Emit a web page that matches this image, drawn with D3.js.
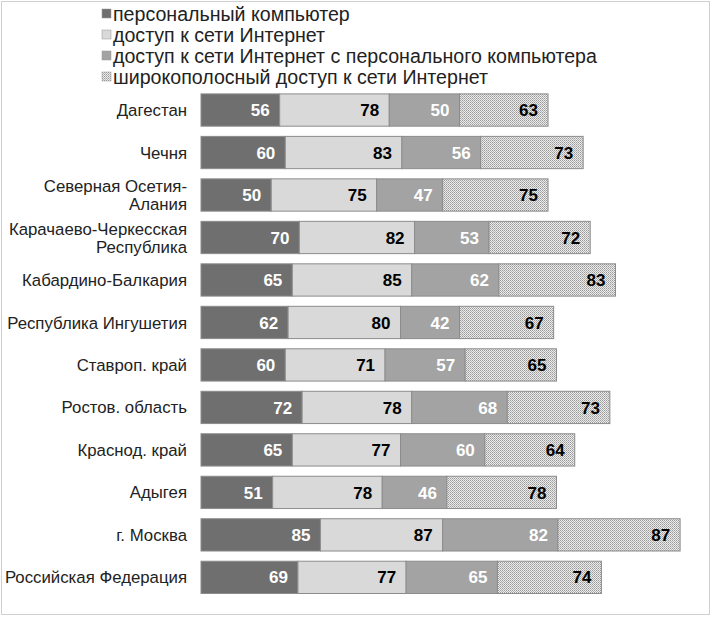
<!DOCTYPE html>
<html lang="ru">
  <head>
    <meta charset="utf-8">
    <title>Доступ к ИКТ</title>
    <script src="https://cdn.jsdelivr.net/npm/d3@7"></script>
    <style>
      body { margin: 0; background: #fff; }
      text { font-family: "Liberation Sans", Arial, sans-serif; }
    </style>
  </head>
  <body>
    <script>
      // regions top to bottom
      var regions = ["Дагестан", "Чечня", "Северная Осетия-\nАлания", "Карачаево-Черкесская\nРеспублика",
        "Кабардино-Балкария", "Республика Ингушетия", "Ставроп. край", "Ростов. область",
        "Краснод. край", "Адыгея", "г. Москва", "Российская Федерация"];
      var seriesNames = ["персональный компьютер", "доступ к сети Интернет",
        "доступ к сети Интернет с персонального компьютера", "широкополосный доступ к сети Интернет"];
      var pc       = [56, 60, 50, 70, 65, 62, 60, 72, 65, 51, 85, 69];
      var inet     = [78, 83, 75, 82, 85, 80, 71, 78, 77, 78, 87, 77];
      var inetPc   = [50, 56, 47, 53, 62, 42, 57, 68, 60, 46, 82, 65];
      var broad    = [63, 73, 75, 72, 83, 67, 65, 73, 64, 78, 87, 74];

      var fills = ["#6f6f6f", "#d9d9d9", "#a3a3a3", "url(#hatch)"];
      var labelColors = ["#fff", "#000", "#fff", "#000"];
      var series = [pc, inet, inetPc, broad];

      var W = 712, H = 617;
      var svg = d3.select("body").append("svg").attr("width", W).attr("height", H);

      var defs = svg.append("defs");
      var pat = defs.append("pattern").attr("id", "hatch").attr("patternUnits", "userSpaceOnUse")
        .attr("width", 2).attr("height", 2);
      pat.append("rect").attr("width", 2).attr("height", 2).attr("fill", "#ececec");
      pat.append("rect").attr("x", 0).attr("y", 0).attr("width", 1).attr("height", 1).attr("fill", "#999");
      pat.append("rect").attr("x", 1).attr("y", 1).attr("width", 1).attr("height", 1).attr("fill", "#b4b4b4");

      // outer frame
      svg.append("rect").attr("x", 1.5).attr("y", 1.5).attr("width", 708).attr("height", 613)
        .attr("fill", "none").attr("stroke", "#d0d0d0");

      var x = d3.scaleLinear().domain([0, 360]).range([201, 201 + 360 * 1.405]);
      var y = d3.scaleBand().domain(regions).range([88.8, 598.6]).paddingInner(0.24).paddingOuter(0.12);

      // stacked data
      var rows = regions.map(function(r, i) {
        var acc = 0;
        return series.map(function(s, k) {
          var seg = { region: r, k: k, v: s[i], x0: acc, x1: acc + s[i] };
          acc += s[i];
          return seg;
        });
      });

      var g = svg.append("g");
      rows.forEach(function(row) {
        var rg = g.append("g");
        rg.selectAll("rect").data(row).enter().append("rect")
          .attr("x", function(d) { return x(d.x0); })
          .attr("y", function(d) { return y(d.region); })
          .attr("width", function(d) { return x(d.x1) - x(d.x0); })
          .attr("height", y.bandwidth())
          .attr("fill", function(d) { return fills[d.k]; })
          .attr("stroke", "#8c8c8c").attr("stroke-width", 1);
        rg.selectAll("text").data(row).enter().append("text")
          .attr("x", function(d) { return x(d.x1) - 10; })
          .attr("y", function(d) { return y(d.region) + y.bandwidth() / 2; })
          .attr("dy", "0.36em").attr("text-anchor", "end")
          .attr("font-size", 17).attr("font-weight", "bold")
          .attr("fill", function(d) { return labelColors[d.k]; })
          .text(function(d) { return d.v; });
      });

      // category labels
      regions.forEach(function(r) {
        var lines = r.split("\n");
        var cy = y(r) + y.bandwidth() / 2;
        var t = svg.append("text").attr("text-anchor", "end").attr("font-size", 16.8).attr("fill", "#222");
        lines.forEach(function(l, j) {
          t.append("tspan").attr("x", 187)
            .attr("y", cy + (j - (lines.length - 1) / 2) * 18)
            .attr("dy", "0.36em").text(l);
        });
      });

      // legend
      var lg = svg.append("g");
      seriesNames.forEach(function(n, i) {
        var ly = 14 + i * 21;
        lg.append("rect").attr("x", 102).attr("y", ly - 5).attr("width", 9).attr("height", 9)
          .attr("fill", fills[i]).attr("stroke", "#999").attr("stroke-width", 0.5);
        lg.append("text").attr("x", 113).attr("y", ly).attr("dy", "0.36em")
          .attr("font-size", 19.6).attr("fill", "#222").text(n);
      });
    </script>
  </body>
</html>
